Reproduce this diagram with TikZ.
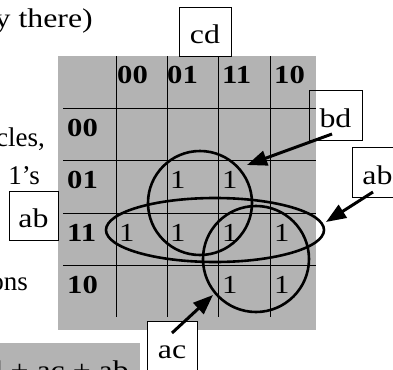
\documentclass[tikz,border=0pt]{standalone}
\usepackage{fontspec}
\setmainfont{Liberation Serif}[FakeStretch=1.18]
\newfontfamily\plainserif{Liberation Serif}
\usetikzlibrary{arrows.meta}
\definecolor{kgray}{RGB}{179,179,179}
\begin{document}
\begin{tikzpicture}[x=1bp,y=-1bp,
  lbl/.style={font=\fontsize{26bp}{30bp}\selectfont\bfseries, anchor=base west, inner sep=0},
  one/.style={font=\fontsize{26bp}{30bp}\selectfont, anchor=base west, inner sep=0},
  tag/.style={draw, line width=0.8bp, inner sep=0, text height=24bp, text depth=0bp,
              font=\fontsize{27bp}{30bp}\selectfont},
  txt/.style={font=\plainserif\fontsize{27bp}{30bp}\selectfont, inner sep=0, anchor=base east},
  widetxt/.style={font=\fontsize{27bp}{30bp}\selectfont, inner sep=0, anchor=base east},
  gridline/.style={line width=1bp},
  loopline/.style={line width=2.6bp},
  ptr/.style={line width=3bp, -{Triangle[length=20bp,width=15bp]}}
]
\useasboundingbox (0,0) rectangle (393,370);
\clip (0,0) rectangle (393,370);

% left text (clipped)
\node[widetxt] (t1) at (93,27) {y there)};
\node[txt] (t2) at (45,146) {cles,};
\node[txt] (t3) at (40,184) {1’s};
\node[txt] (t4) at (28,290) {ons};

% bottom formula bar
\fill[kgray] (-1,343) rectangle (140,371);
\node[widetxt] (t5) at (129,379) {d + ac + ab};

% K-map
\fill[kgray] (58,56) rectangle (316,330);
\foreach \x in {116,167,218,270} \draw[gridline] (\x,56) -- (\x,317);
\foreach \y in {108,160,213,265} \draw[gridline] (63,\y) -- (316,\y);

\node[lbl] (c00) at (117,83) {00};
\node[lbl] (c01) at (167,83) {01};
\node[lbl] (c11) at (222,83) {11};
\node[lbl] (c10) at (274,83) {10};
\node[lbl] (r00) at (67,136) {00};
\node[lbl] (r01) at (67,188) {01};
\node[lbl] (r11) at (67,241) {11};
\node[lbl] (r10) at (67,293) {10};

\node[one] (m1) at (170,188) {1};
\node[one] (m2) at (222,188) {1};
\node[one] (m3) at (119,241) {1};
\node[one] (m4) at (170,241) {1};
\node[one] (m5) at (222,241) {1};
\node[one] (m6) at (274,241) {1};
\node[one] (m7) at (222,293) {1};
\node[one] (m8) at (274,293) {1};

% groupings
\draw[loopline] (200,203) circle (52);
\draw[loopline] (215,230) ellipse (109 and 32);
\draw[loopline] (256,259) circle (53);

% label boxes
\node[tag, minimum width=52bp, minimum height=49bp] (cd) at (205,31.5) {cd};
\node[tag, minimum width=53bp, minimum height=50bp] (bd) at (335.5,115) {bd};
\node[tag, fill=white, minimum width=51bp, minimum height=50bp] (abr) at (377.5,172) {ab};
\node[tag, fill=white, minimum width=49bp, minimum height=49bp] (abl) at (33.5,215.5) {ab};
\node[tag, fill=white, minimum width=50bp, minimum height=50bp] (ac) at (172,346) {ac};

% arrows
\coordinate (bdtail) at (332,134);
\coordinate (bdtip) at (247,165);
\coordinate (abtail) at (373,192);
\coordinate (abtip) at (326,222);
\coordinate (actail) at (172,333);
\coordinate (actip) at (213,295);
\draw[ptr] (bdtail) -- (bdtip);
\draw[ptr] (abtail) -- (abtip);
\draw[ptr] (actail) -- (actip);
\end{tikzpicture}
\end{document}
